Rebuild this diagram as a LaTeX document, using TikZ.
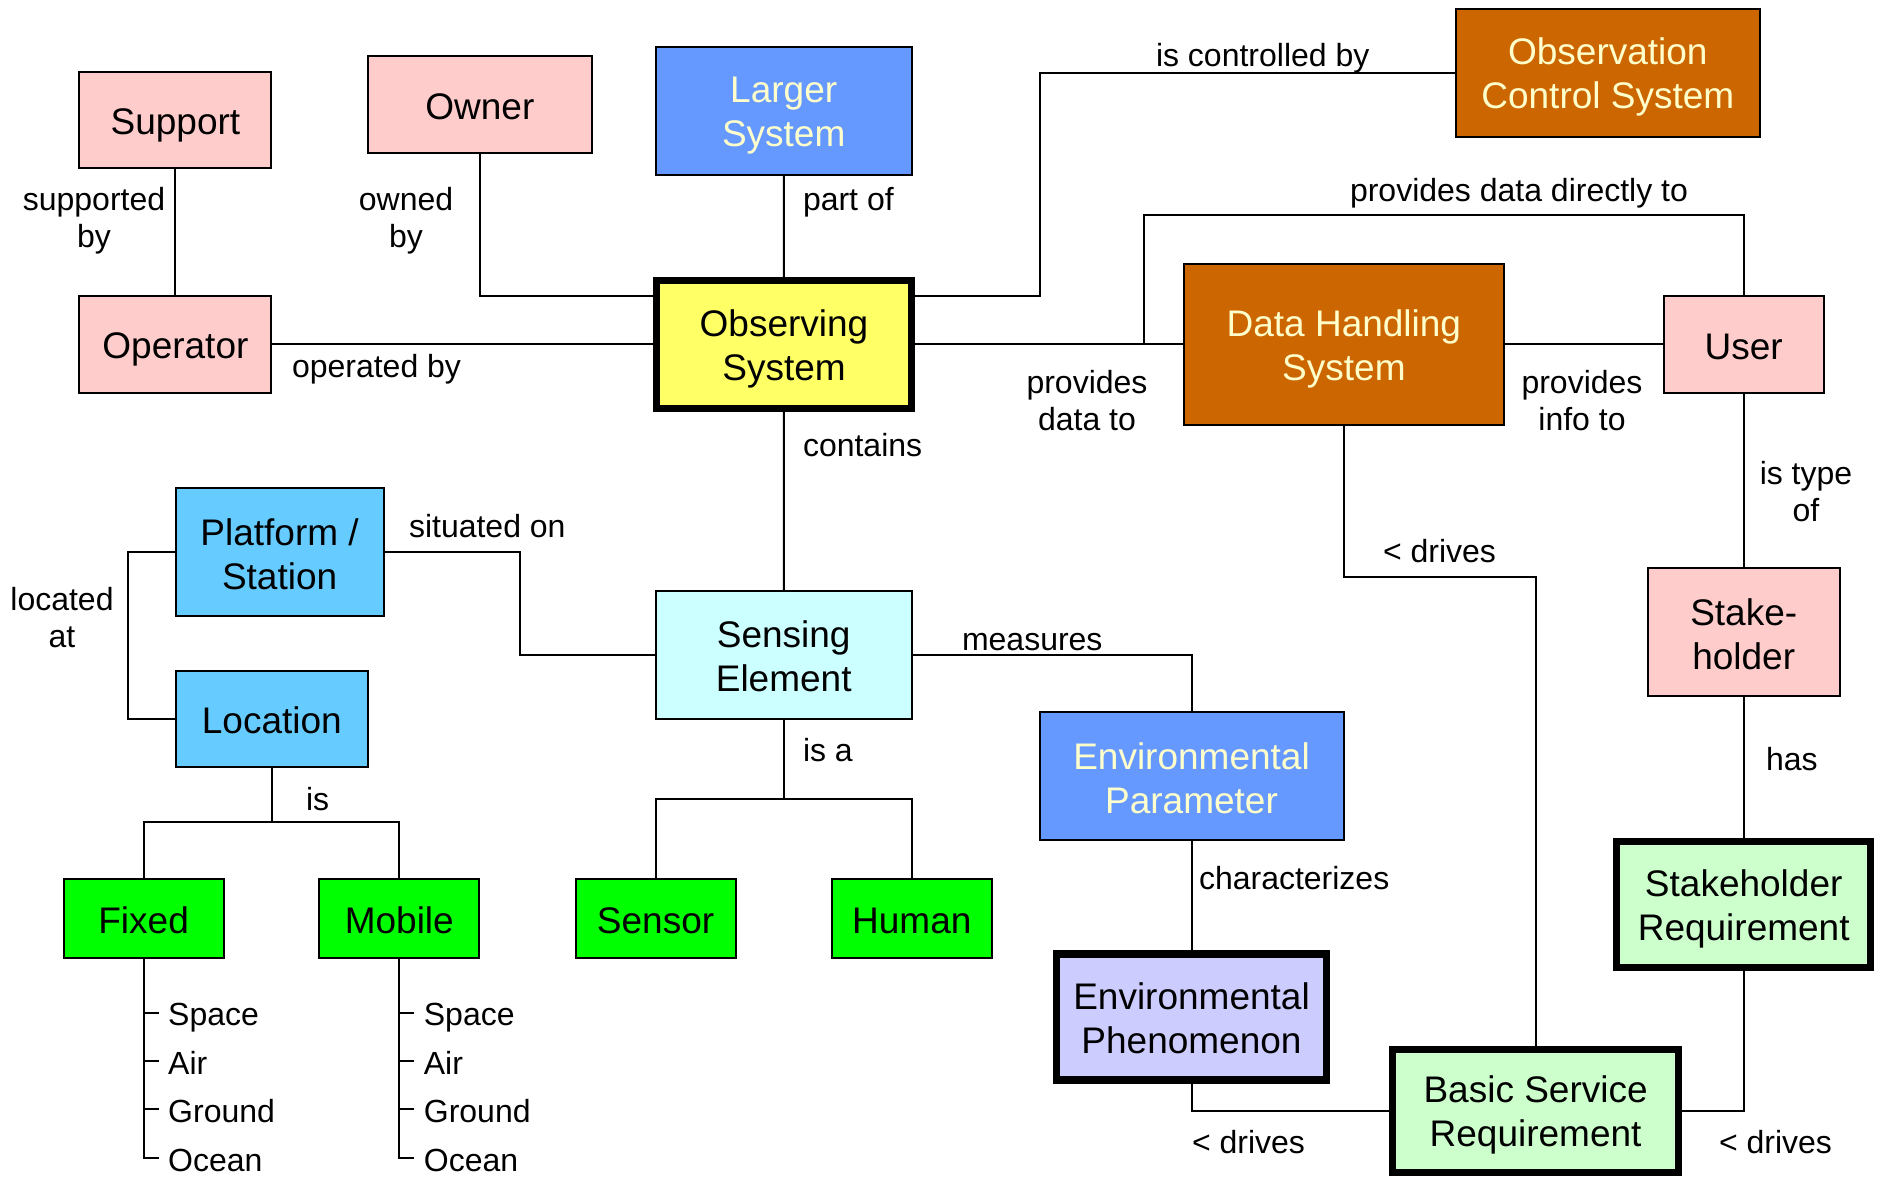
\documentclass[tikz,border=0pt]{standalone}
\usepackage{fontspec}
\setmainfont{Liberation Sans}
\definecolor{pinkfill}{HTML}{FFCCCC}
\definecolor{bluefill}{HTML}{6699FF}
\definecolor{orangefill}{HTML}{CC6600}
\definecolor{yellowfill}{HTML}{FFFF66}
\definecolor{skyfill}{HTML}{66CCFF}
\definecolor{cyanfill}{HTML}{CCFFFF}
\definecolor{greenfill}{HTML}{00FF00}
\definecolor{mintfill}{HTML}{CCFFCC}
\definecolor{lilacfill}{HTML}{CCCCFF}
\definecolor{paletext}{HTML}{FFFFCC}
% line box of the box text
\newcommand\bxstrut{\rule[-5.8pt]{0pt}{41.3pt}}
% box captions: one or two centred lines with equal line boxes
\newcommand\oneline[1]{\bxstrut#1}
\newcommand\twolines[2]{\vbox{\halign{\hfil##\hfil\cr\bxstrut#1\cr\bxstrut#2\cr}}}
\begin{document}
\begin{tikzpicture}[x=1pt,y=-1pt,
  box/.style={draw=black, line width=2pt, outer sep=0pt, inner sep=0pt,
    font=\fontsize{37}{44}\selectfont},
  thickbox/.style={box, line width=7.5pt},
  sz/.style 2 args={minimum width=#1pt, minimum height=#2pt},
  pinkbox/.style={box, fill=pinkfill},
  bluebox/.style={box, fill=bluefill, text=paletext},
  orangebox/.style={box, fill=orangefill, text=paletext},
  skybox/.style={box, fill=skyfill},
  greenbox/.style={box, fill=greenfill, sz={160}{79.4}},
  lbl/.style={inner sep=0pt, outer sep=0pt, align=center,
    font=\fontsize{32}{37.5}\selectfont},
  item/.style={lbl, anchor=west, inner xsep=9.5pt, inner ysep=0pt,
    text height=26pt, text depth=0pt},
  link/.style={draw=black, line width=2pt},
]
\useasboundingbox (0,0) rectangle (1885,1178);

% ---------- concept boxes ----------
\node[pinkbox, sz={192}{96}]   (support)  at (175.4,120.3) {\oneline{Support}};
\node[pinkbox, sz={224}{96.7}] (owner)    at (479.9,104.4) {\oneline{Owner}};
\node[bluebox, sz={256}{128}]  (larger)   at (783.7,110.9) {\twolines{Larger}{System}};
\node[orangebox, sz={304}{128}] (ctl)     at (1607.8,72.5) {\twolines{Observation}{Control System}};
\node[pinkbox, sz={192}{96.7}] (operator) at (175.4,344.4) {\oneline{Operator}};
\node[thickbox, fill=yellowfill, sz={255}{128}] (obs) at (784,344.4) {\twolines{Observing}{System}};
\node[orangebox, sz={320}{161}] (dhs)     at (1343.9,344.4) {\twolines{Data Handling}{System}};
\node[pinkbox, sz={160}{96.7}] (user)     at (1743.7,344.4) {\oneline{User}};
\node[skybox, sz={208}{128}]   (platform) at (279.6,552.4) {\twolines{Platform /}{Station}};
\node[skybox, sz={192}{96}]    (location) at (271.8,719) {\oneline{Location}};
\node[box, fill=cyanfill, sz={256}{128}] (sensing) at (783.7,654.5) {\twolines{Sensing}{Element}};
\node[pinkbox, sz={192}{128}]  (stake)    at (1743.7,632.2) {\twolines{Stake-}{holder}};
\node[bluebox, sz={304}{128}]  (envpar)   at (1191.5,776.2) {\twolines{Environmental}{Parameter}};
\node[greenbox] (fixed)  at (143.6,918.7) {\oneline{Fixed}};
\node[greenbox] (mobile) at (399.3,918.7) {\oneline{Mobile}};
\node[greenbox] (sensor) at (655.6,918.7) {\oneline{Sensor}};
\node[greenbox] (human)  at (911.8,918.7) {\oneline{Human}};
\node[thickbox, fill=mintfill, sz={254}{126}]  (sreq)  at (1743.7,904.5) {\twolines{Stakeholder}{Requirement}};
\node[thickbox, fill=lilacfill, sz={270}{126}] (envph) at (1191.5,1016.9) {\twolines{Environmental}{Phenomenon}};
\node[thickbox, fill=mintfill, sz={286}{123}]  (bsr)   at (1535.6,1111) {\twolines{Basic Service}{Requirement}};

% ---------- location kinds ----------
\node[item] (fs) at (158.7,1012.7) {Space};
\node[item] (fa) at (158.7,1061.4) {Air};
\node[item] (fg) at (158.7,1109.2) {Ground};
\node[item] (fo) at (158.7,1158)   {Ocean};
\node[item] (ms) at (414.4,1012.7) {Space};
\node[item] (ma) at (414.4,1061.4) {Air};
\node[item] (mg) at (414.4,1109.2) {Ground};
\node[item] (mo) at (414.4,1158)   {Ocean};

% ---------- junction points ----------
\coordinate (dd)   at (1143.8,344.4);
\coordinate (locj) at (271.8,822);
\coordinate (sej)  at (783.7,799);

% ---------- connectors ----------
\draw[link] (support) -- (operator);
\draw[link] (owner.south) |- ([yshift=48.4pt]obs.west);
\draw[link] (larger) -- (obs);
\draw[link] (operator) -- (obs);
\draw[link] ([yshift=48.4pt]obs.east) -| ([xshift=-416.3pt]ctl.west) -- (ctl.west);
\draw[link] (obs) -- (dhs);
\draw[link] (dd) |- ([yshift=81pt]user.north) -- (user.north);
\draw[link] (dhs) -- (user);
\draw[link] (obs) -- (sensing);
\draw[link] (user) -- (stake);
\draw[link] (stake) -- (sreq);
\draw[link] (dhs.south) |- ([yshift=472.6pt]bsr.north) -- (bsr.north);
\draw[link] (platform.east) -| ([xshift=-135.8pt]sensing.west) -- (sensing.west);
\draw[link] (platform.west) -| ([xshift=-47.9pt]location.west) -- (location.west);
\draw[link] (sensing.east) -| (envpar.north);
\draw[link] (envpar) -- (envph);
\draw[link] (envph.south) |- (bsr.west);
\draw[link] (sreq.south) |- (bsr.east);
\draw[link] (location.south) -- (locj);
\draw[link] (fixed.north) |- (locj) -| (mobile.north);
\draw[link] (sensing.south) -- (sej);
\draw[link] (sensor.north) |- (sej) -| (human.north);
\draw[link] (fixed.south) |- (fo.west);
\draw[link] (fs.west) -- (fs.west -| fixed.south);
\draw[link] (fa.west) -- (fa.west -| fixed.south);
\draw[link] (fg.west) -- (fg.west -| fixed.south);
\draw[link] (mobile.south) |- (mo.west);
\draw[link] (ms.west) -- (ms.west -| mobile.south);
\draw[link] (ma.west) -- (ma.west -| mobile.south);
\draw[link] (mg.west) -- (mg.west -| mobile.south);

% ---------- relation labels ----------
\node[lbl, anchor=north]     (l1)  at (94,187)     {supported\\by};
\node[lbl, anchor=north]     (l2)  at (406,187)    {owned\\by};
\node[lbl, anchor=base west] (l3)  at (803,210)    {part of};
\node[lbl, anchor=base west] (l4)  at (292,377)    {operated by};
\node[lbl, anchor=base west] (l5)  at (1156,66)    {is controlled by};
\node[lbl, anchor=base west] (l6)  at (1350,201)   {provides data directly to};
\node[lbl, anchor=north]     (l7)  at (1087,370)   {provides\\data to};
\node[lbl, anchor=north]     (l8)  at (1582,370)   {provides\\info to};
\node[lbl, anchor=base west] (l9)  at (803,456)    {contains};
\node[lbl, anchor=north]     (l10) at (62,587)     {located\\at};
\node[lbl, anchor=base west] (l11) at (409,537)    {situated on};
\node[lbl, anchor=base west] (l12) at (306,810)    {is};
\node[lbl, anchor=base west] (l13) at (803,761)    {is a};
\node[lbl, anchor=base west] (l14) at (962,650)    {measures};
\node[lbl, anchor=base west] (l15) at (1383,562)   {< drives};
\node[lbl, anchor=north]     (l16) at (1806,461)   {is type\\of};
\node[lbl, anchor=base west] (l17) at (1766,770)   {has};
\node[lbl, anchor=base west] (l18) at (1199,889)   {characterizes};
\node[lbl, anchor=base west] (l19) at (1192,1153)  {< drives};
\node[lbl, anchor=base west] (l20) at (1719,1153)  {< drives};
\end{tikzpicture}
\end{document}
